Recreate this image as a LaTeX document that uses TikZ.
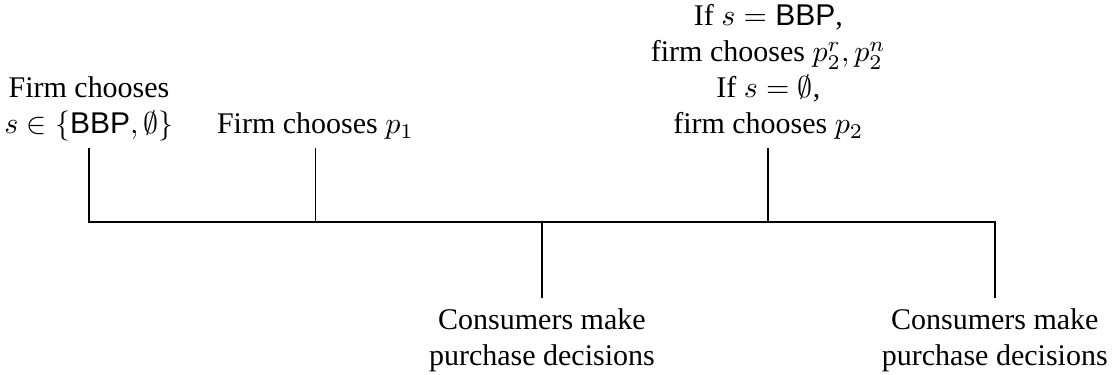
\documentclass[tikz,border=0pt]{standalone}
\usepackage{fontspec}
\setmainfont{Liberation Serif}
\setsansfont{Liberation Sans}
\tikzset{
  firmtext/.style={anchor=south,align=center,inner sep=0pt,text depth=0pt,yshift=4.3pt},
  buytext/.style={anchor=north,align=center,inner sep=3.3pt}
}
\begin{document}
\begin{tikzpicture}[semithick]
      \useasboundingbox (-1.043,-1.781) rectangle (11.985,2.601);
      \path
        (0,0) coordinate (0)
        (2.653,0) coordinate (1)
        (5.306,0) coordinate (2)
        (7.959,0) coordinate (3)
        (10.612,0) coordinate (4)
        (0,0.87) coordinate (0u)
        (2.653,0.87) coordinate (1u)
        (5.306,-0.89) coordinate (2d)
        (7.959,0.87) coordinate (3u)
        (10.612,-0.89) coordinate (4d);
      \node[firmtext] (s) at (0u) {Firm chooses\\ $s \in \{\textsf{BBP}, \emptyset\}$};
      \node[firmtext] (p1) at (1u) {Firm chooses $p_1$};
      \node[firmtext] (p2) at (3u) {If $s = \textsf{BBP}$,\\ firm chooses $p_2^r, p_2^n$\\ If $s = \emptyset$,\\ firm chooses $p_2$};
      \node[buytext] (buy1) at (2d) {Consumers make\\ purchase decisions};
      \node[buytext] (buy2) at (4d) {Consumers make\\ purchase decisions};
      \begin{scope}[-]
        \draw (0u) -- (0) -- (4) -- (4d);
        \draw (1) to (1u);
        \draw (2) to (2d);
        \draw (3) to (3u);
      \end{scope}
    \end{tikzpicture}
\end{document}
